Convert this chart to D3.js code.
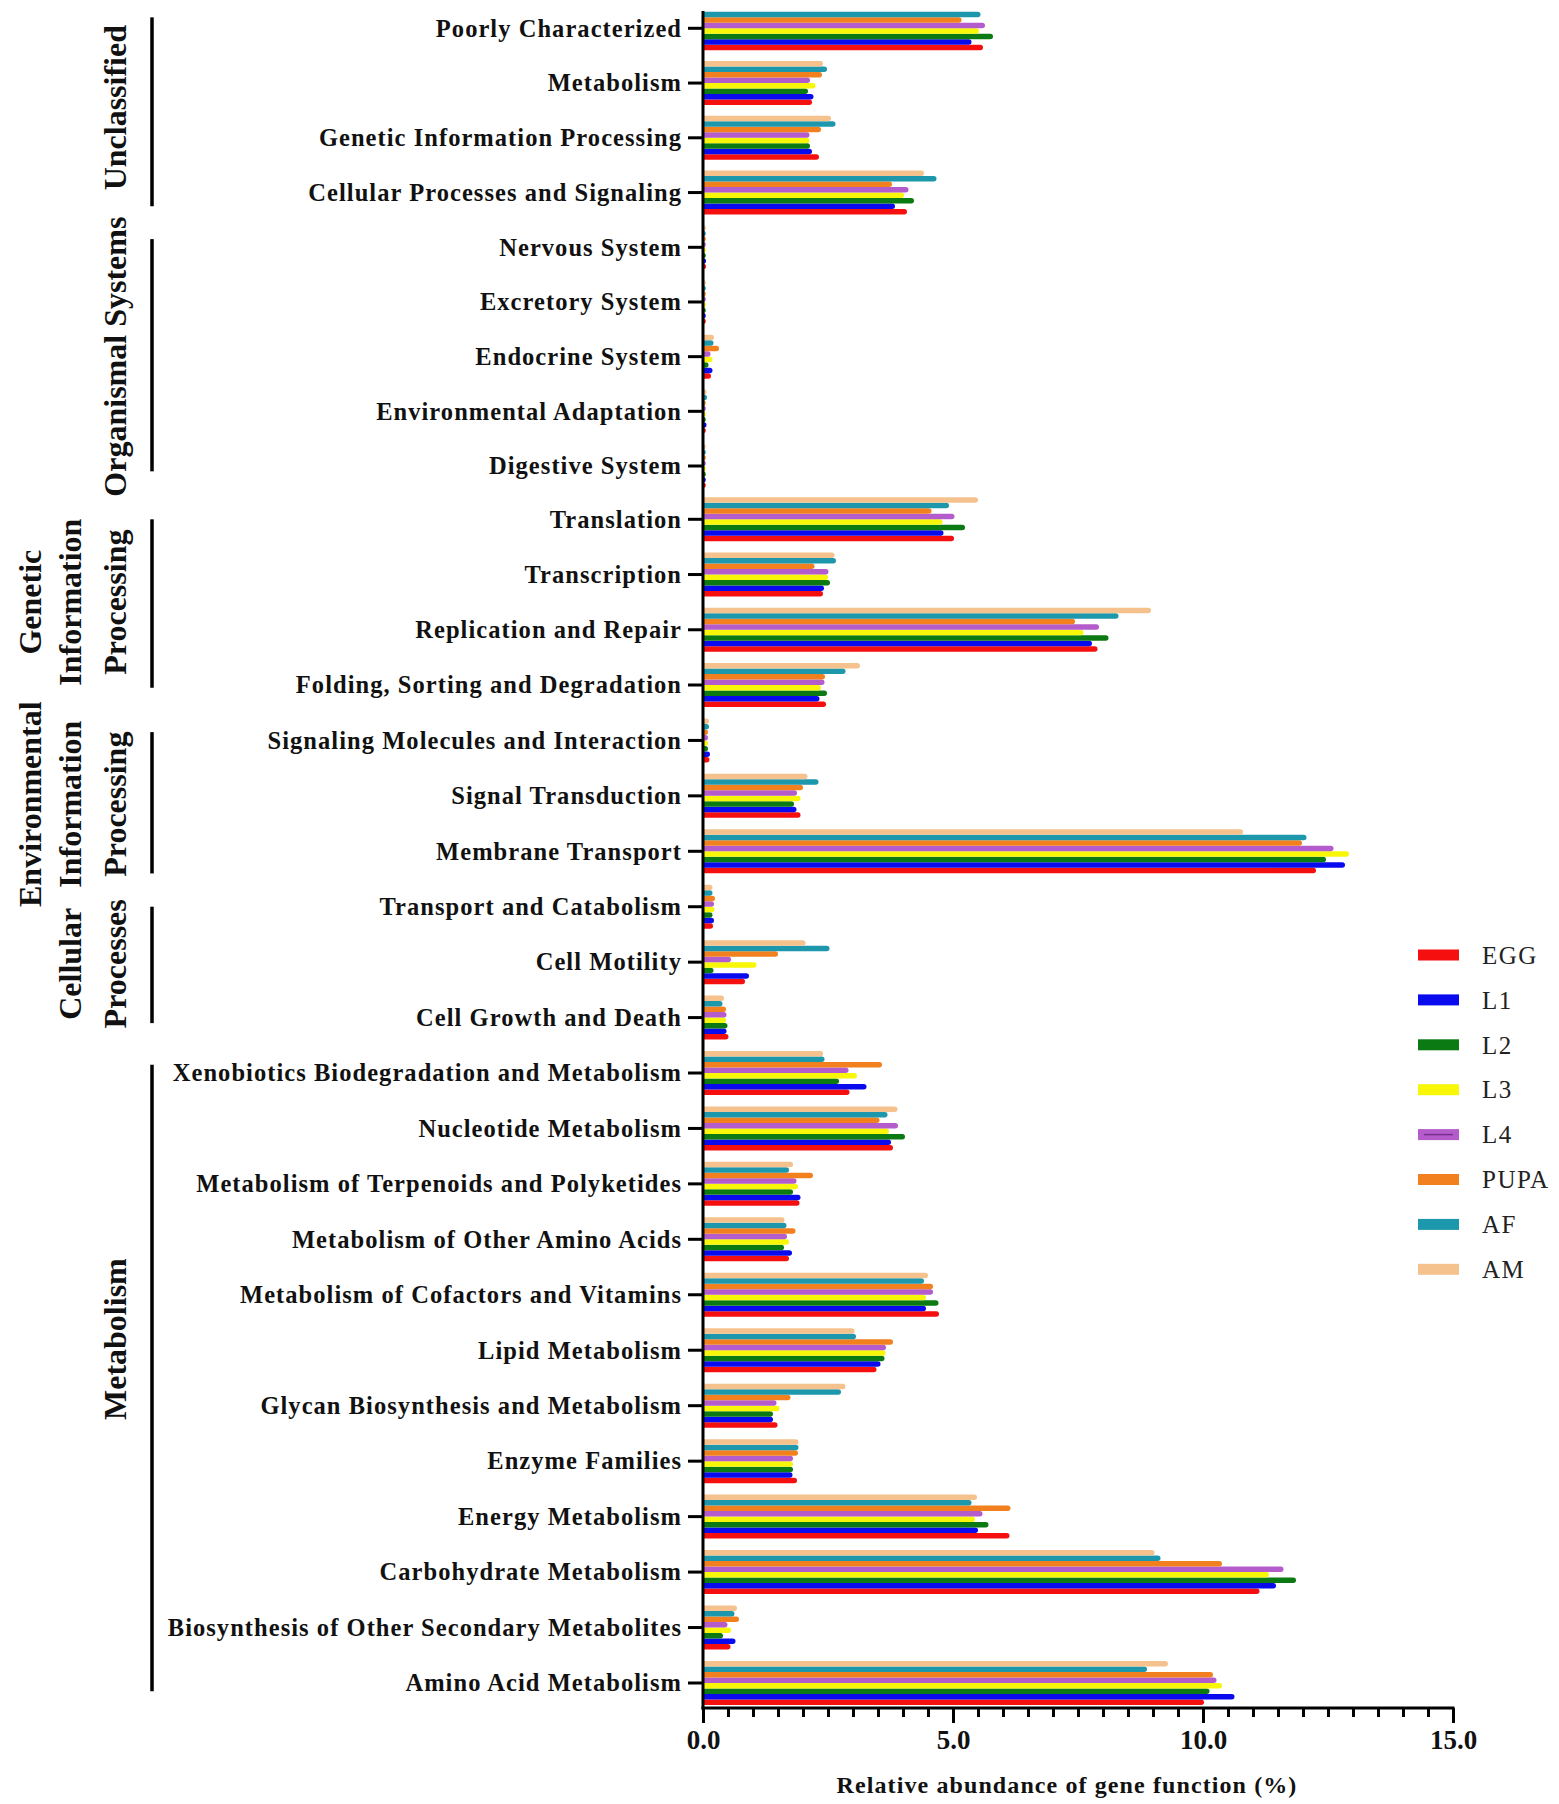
<!DOCTYPE html>
<html>
<head>
<meta charset="utf-8">
<script src="https://cdn.jsdelivr.net/npm/d3@7"></script>
<style>
  body { margin: 0; background: #fff; }
  text { font-family: "Liberation Serif", "Times New Roman", serif; }
</style>
</head>
<body>
<svg width="1559" height="1804"></svg>
<script>
(function (d3) {
    'use strict';

    const categories = [
        'Poorly Characterized', 'Metabolism', 'Genetic Information Processing',
        'Cellular Processes and Signaling', 'Nervous System', 'Excretory System',
        'Endocrine System', 'Environmental Adaptation', 'Digestive System',
        'Translation', 'Transcription', 'Replication and Repair',
        'Folding, Sorting and Degradation', 'Signaling Molecules and Interaction',
        'Signal Transduction', 'Membrane Transport', 'Transport and Catabolism',
        'Cell Motility', 'Cell Growth and Death',
        'Xenobiotics Biodegradation and Metabolism', 'Nucleotide Metabolism',
        'Metabolism of Terpenoids and Polyketides', 'Metabolism of Other Amino Acids',
        'Metabolism of Cofactors and Vitamins', 'Lipid Metabolism',
        'Glycan Biosynthesis and Metabolism', 'Enzyme Families', 'Energy Metabolism',
        'Carbohydrate Metabolism', 'Biosynthesis of Other Secondary Metabolites',
        'Amino Acid Metabolism'
    ];

    const series = ['EGG', 'L1', 'L2', 'L3', 'L4', 'PUPA', 'AF', 'AM'];
    const colors = ['#f50f0f', '#0a0aee', '#0b7a12', '#f7f707', '#b45ccc', '#f2801e', '#1d97ac', '#f5c28e'];

    // one array per stage, in category order (%)
    const EGG  = [5.60, 2.18, 2.32, 4.08, 0.06, 0.01, 0.16, 0.05, 0.01, 5.02, 2.40, 7.89, 2.46, 0.13, 1.95, 12.26,
                  0.20, 0.84, 0.51, 2.93, 3.80, 1.93, 1.72, 4.72, 3.47, 1.49, 1.88, 6.13, 11.13, 0.55, 10.02];
    const L1   = [5.37, 2.21, 2.18, 3.84, 0.06, 0.01, 0.19, 0.07, 0.01, 4.81, 2.42, 7.78, 2.33, 0.14, 1.87, 12.84,
                  0.22, 0.92, 0.47, 3.27, 3.76, 1.95, 1.78, 4.46, 3.55, 1.40, 1.79, 5.50, 11.46, 0.65, 10.63];
    const L2   = [5.80, 2.10, 2.14, 4.22, 0.05, 0.01, 0.11, 0.05, 0.01, 5.24, 2.54, 8.11, 2.48, 0.10, 1.82, 12.46,
                  0.19, 0.21, 0.49, 2.72, 4.04, 1.80, 1.62, 4.71, 3.63, 1.40, 1.80, 5.71, 11.86, 0.40, 10.13];
    const L3   = [5.52, 2.25, 2.13, 4.02, 0.04, 0.01, 0.19, 0.05, 0.01, 4.79, 2.50, 7.61, 2.36, 0.10, 1.95, 12.92,
                  0.23, 1.07, 0.46, 3.08, 3.72, 1.90, 1.72, 4.46, 3.65, 1.53, 1.80, 5.44, 11.32, 0.56, 10.38];
    const L4   = [5.64, 2.14, 2.13, 4.11, 0.05, 0.01, 0.15, 0.05, 0.01, 5.03, 2.51, 7.92, 2.43, 0.10, 1.88, 12.61,
                  0.22, 0.56, 0.47, 2.91, 3.90, 1.87, 1.68, 4.60, 3.66, 1.47, 1.80, 5.59, 11.61, 0.49, 10.27];
    const PUPA = [5.17, 2.38, 2.36, 3.78, 0.05, 0.01, 0.32, 0.05, 0.01, 4.57, 2.23, 7.44, 2.44, 0.10, 2.00, 11.98,
                  0.24, 1.50, 0.46, 3.58, 3.53, 2.20, 1.85, 4.60, 3.80, 1.75, 1.90, 6.15, 10.38, 0.72, 10.20];
    const AF   = [5.55, 2.48, 2.65, 4.67, 0.05, 0.01, 0.21, 0.08, 0.01, 4.92, 2.66, 8.31, 2.85, 0.12, 2.31, 12.07,
                  0.19, 2.53, 0.39, 2.43, 3.69, 1.72, 1.67, 4.42, 3.06, 2.76, 1.91, 5.37, 9.15, 0.63, 8.88];
    const AM   = [null, 2.40, 2.56, 4.42, 0.04, 0.01, 0.22, 0.07, 0.01, 5.50, 2.63, 8.96, 3.14, 0.12, 2.09, 10.80,
                  0.19, 2.05, 0.42, 2.40, 3.89, 1.80, 1.63, 4.50, 3.03, 2.85, 1.91, 5.48, 9.03, 0.68, 9.30];
    const seriesValues = [EGG, L1, L2, L3, L4, PUPA, AF, AM];

    // category groups shown with brackets on the left (extents in category-index units)
    const groupNames = [
        ['Unclassified'],
        ['Organismal Systems'],
        ['Genetic', 'Information', 'Processing'],
        ['Environmental', 'Information', 'Processing'],
        ['Cellular', 'Processes'],
        ['Metabolism']
    ];
    const groupStart = [-0.2, 3.85, 9.0, 12.85, 16.0, 18.85];
    const groupEnd   = [3.25, 8.1, 12.05, 15.4, 18.1, 30.15];
    const groupLabelAt = [1.45, 6.0, 10.5, 14.15, 17.03, 23.8];

    const xTicks = [0, 5, 10, 15];
    const xTitle = 'Relative abundance of gene function (%)';

    const svg = d3.select('svg');
    const axisX0 = 703, axisX1 = 1453;
    const axisY = 1708, axisTop = 11;

    const xScale = d3.scaleLinear().domain([0, 15]).range([axisX0, axisX1]);
    // row index -> y (rows are very slightly unevenly spaced in the original)
    const rowY = d3.scaleLinear()
        .domain([0, 4, 8, 9, 12, 22, 30])
        .range([28.3, 247.3, 466, 519.3, 685, 1239.3, 1683]);
    const yPos = c => rowY(categories.indexOf(c));
    // EGG at the bottom of each group, AM at the top
    const inner = d3.scaleBand().domain(series.slice().reverse()).range([-22, 22]);
    const barH = inner.bandwidth();

    const barPath = (x0, x1, y, h) => {
        const r = h / 2;
        const xe = Math.max(x0, x1 - r);
        return `M${x0},${y}H${xe}A${r},${r} 0 0 1 ${xe},${y + h}H${x0}Z`;
    };

    // bars
    const bars = svg.append('g');
    series.forEach((s, si) => {
        bars.selectAll(null)
            .data(categories.map((c, i) => ({ c, v: seriesValues[si][i] })).filter(d => d.v != null))
            .enter().append('path')
            .attr('d', d => barPath(axisX0, xScale(d.v), yPos(d.c) + inner(s), barH))
            .attr('fill', colors[si]);
    });

    // y axis: ticks + category labels
    const yG = svg.append('g');
    const yTick = yG.selectAll('g').data(categories).enter().append('g')
        .attr('transform', d => `translate(${axisX0},${yPos(d)})`);
    yTick.append('line')
        .attr('x1', -15).attr('x2', 0)
        .attr('stroke', '#000').attr('stroke-width', 3);
    yTick.append('text')
        .attr('x', -21)
        .attr('dy', '0.34em')
        .attr('text-anchor', 'end')
        .attr('font-size', 24.5)
        .attr('letter-spacing', 1.05)
        .attr('font-weight', 'bold')
        .attr('fill', '#111')
        .text(d => d);
    svg.append('line')
        .attr('x1', axisX0).attr('x2', axisX0)
        .attr('y1', axisTop).attr('y2', axisY + 1.5)
        .attr('stroke', '#000').attr('stroke-width', 3);

    // x axis, major + minor ticks
    const xMinor = d3.axisBottom(xScale).ticks(30).tickSize(9).tickFormat('');
    const xmG = svg.append('g').attr('transform', `translate(0,${axisY})`).call(xMinor);
    xmG.select('.domain').remove();
    xmG.selectAll('.tick line').attr('stroke', '#000').attr('stroke-width', 3);

    const xAxis = d3.axisBottom(xScale).tickValues(xTicks).tickSize(15).tickPadding(7)
        .tickFormat(d3.format('.1f'));
    const xG = svg.append('g').attr('transform', `translate(0,${axisY})`).call(xAxis);
    xG.select('.domain').attr('stroke', '#000').attr('stroke-width', 3)
        .attr('d', `M${axisX0 - 1.5},0H${axisX1 + 1.5}`);
    xG.selectAll('.tick line').attr('stroke', '#000').attr('stroke-width', 3);
    xG.selectAll('.tick text')
        .attr('font-size', 27)
        .attr('font-weight', 'bold')
        .attr('fill', '#111');

    svg.append('text')
        .attr('x', 1067)
        .attr('y', 1793)
        .attr('text-anchor', 'middle')
        .attr('font-size', 24)
        .attr('letter-spacing', 1.1)
        .attr('font-weight', 'bold')
        .attr('fill', '#111')
        .text(xTitle);

    // group brackets and rotated labels
    const lineCols = { 1: [115], 2: [70, 115], 3: [30, 70, 115] };
    groupNames.forEach((lines, gi) => {
        svg.append('line')
            .attr('x1', 152).attr('x2', 152)
            .attr('y1', rowY(groupStart[gi])).attr('y2', rowY(groupEnd[gi]))
            .attr('stroke', '#000').attr('stroke-width', 3.5);
        const mid = rowY(groupLabelAt[gi]);
        lines.forEach((t, li) => {
            const cx = lineCols[lines.length][li];
            svg.append('text')
                .attr('transform', `translate(${cx},${mid}) rotate(-90)`)
                .attr('text-anchor', 'middle')
                .attr('dy', '0.35em')
                .attr('font-size', 32)
                .attr('font-weight', 'bold')
                .attr('fill', '#111')
                .text(t);
        });
    });

    // legend
    const legend = svg.append('g').attr('transform', 'translate(1418,955)');
    series.forEach((s, i) => {
        const row = legend.append('g').attr('transform', `translate(0,${i * 44.9})`);
        row.append('rect')
            .attr('x', 0).attr('y', -5.5)
            .attr('width', 41).attr('height', 11)
            .attr('fill', colors[i]);
        if (s === 'L4') {
            row.append('line')
                .attr('x1', 6).attr('x2', 35).attr('y1', 0).attr('y2', 0)
                .attr('stroke', '#7a2f8f').attr('stroke-width', 1.5);
        }
        row.append('text')
            .attr('x', 64).attr('y', 0)
            .attr('dy', '0.35em')
            .attr('font-size', 25)
            .attr('letter-spacing', 1.5)
            .attr('fill', '#222')
            .text(s);
    });
}(d3));
</script>
</body>
</html>
